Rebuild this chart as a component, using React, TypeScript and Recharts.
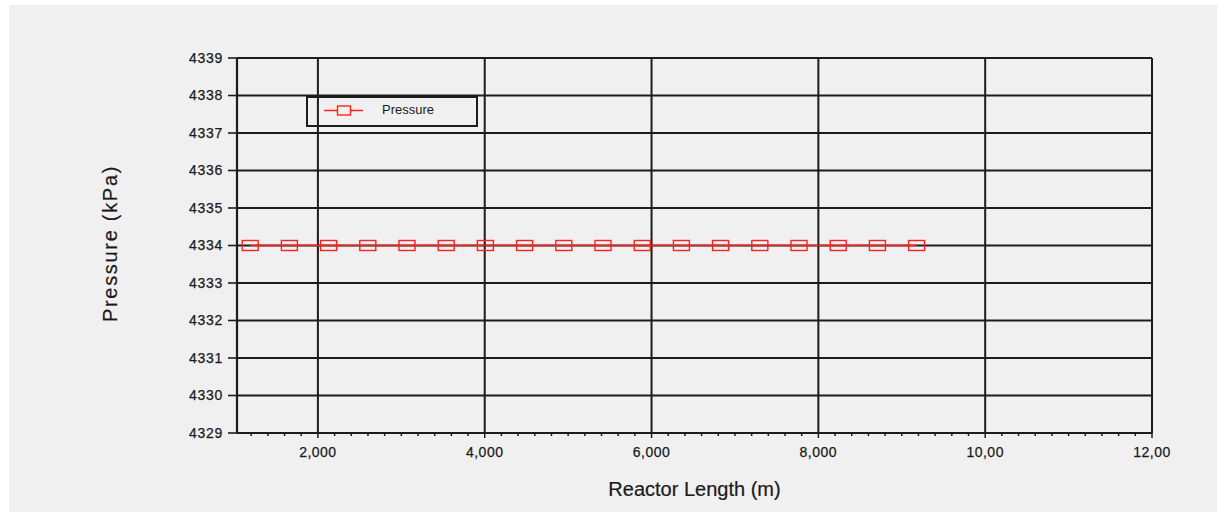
import React from "react";
import { LineChart, Line, XAxis, YAxis, CartesianGrid, ReferenceLine } from "recharts";

const lengths = [1188, 1658, 2128, 2598, 3068, 3538, 4008, 4478, 4948, 5418, 5888, 6358, 6828, 7298, 7768, 8238, 8708, 9178];
const pressures = [4334, 4334, 4334, 4334, 4334, 4334, 4334, 4334, 4334, 4334, 4334, 4334, 4334, 4334, 4334, 4334, 4334, 4334];
const yTicks = [4329, 4330, 4331, 4332, 4333, 4334, 4335, 4336, 4337, 4338, 4339];
const xMajorTicks = [2000, 4000, 6000, 8000, 10000, 12000];
const xMajorLabels = ["2,000", "4,000", "6,000", "8,000", "10,00", "12,00"];
const xMinorTicks = [1200, 1400, 1600, 1800, 2000, 2200, 2400, 2600, 2800, 3000, 3200, 3400, 3600, 3800, 4000, 4200, 4400, 4600, 4800, 5000, 5200, 5400, 5600, 5800, 6000, 6200, 6400, 6600, 6800, 7000, 7200, 7400, 7600, 7800, 8000, 8200, 8400, 8600, 8800, 9000, 9200, 9400, 9600, 9800, 10000, 10200, 10400, 10600, 10800, 11000, 11200, 11400, 11600, 11800, 12000];
const seriesName = "Pressure";
const xTitle = "Reactor Length (m)";
const yTitle = "Pressure (kPa)";

const data = lengths.map((x, i) => ({ x, y: pressures[i] }));

const FONT = "'Liberation Sans', Arial, sans-serif";
const INK = "#1a1a1a";
const GRID = "#1c1c1c";
const RED = "#ff2020";

const XTick = (props: any) => {
  const { x, y, payload } = props;
  const v = payload.value;
  const idx = xMajorTicks.indexOf(v);
  const major = idx >= 0;
  return (
    <g>
      <line x1={x} x2={x} y1={y} y2={y + (major ? 5 : 3)} stroke={GRID} strokeWidth={1.5} />
      {major && (
        <text x={x} y={y + 24} textAnchor="middle" fontSize={14} fontFamily={FONT} fill={INK} stroke={INK} strokeWidth={0.25} letterSpacing={0.5}>
          {xMajorLabels[idx]}
        </text>
      )}
    </g>
  );
};

const Marker = (p: any) => {
  if (p.cx == null || p.cy == null) return <g key={p.index} />;
  return (
    <rect key={p.index} x={p.cx - 8} y={p.cy - 5} width={16} height={10} fill="none" stroke={RED} strokeWidth={1.4} />
  );
};

const XTitle = (props: any) => {
  const vb = props.viewBox;
  return (
    <text x={vb.x + vb.width / 2} y={vb.y + vb.height - 16} textAnchor="middle" fontSize={20} fontFamily={FONT} fill={INK} stroke={INK} strokeWidth={0.2}>
      {xTitle}
    </text>
  );
};

const YTitle = (props: any) => {
  const vb = props.viewBox;
  const cx = vb.x + 108;
  const cy = vb.y + vb.height / 2 - 2;
  return (
    <text x={cx} y={cy} transform={`rotate(-90 ${cx} ${cy})`} textAnchor="middle" fontSize={20} fontFamily={FONT} fill={INK} stroke={INK} strokeWidth={0.2} letterSpacing={1.7}>
      {yTitle}
    </text>
  );
};

export default function App() {
  return (
    <div style={{ position: "absolute", left: 9, top: 5, width: 1208, height: 507, background: "#f0f0f0" }}>
      <LineChart width={1208} height={507} data={data} margin={{ top: 53, right: 65, bottom: 0, left: 0 }}>
        <CartesianGrid vertical={false} stroke={GRID} strokeWidth={2} />
        {xMajorTicks.map((v) => (
          <ReferenceLine key={v} x={v} stroke={GRID} strokeWidth={2} ifOverflow="visible" />
        ))}
        <XAxis
          dataKey="x"
          type="number"
          domain={[1030, 12000]}
          allowDataOverflow
          ticks={xMinorTicks}
          interval={0}
          tickLine={false}
          tickSize={0}
          tickMargin={0}
          tick={<XTick />}
          axisLine={{ stroke: GRID, strokeWidth: 2.2 }}
          height={79}
          label={<XTitle />}
        />
        <YAxis
          type="number"
          domain={[4329, 4339]}
          ticks={yTicks}
          interval={0}
          width={228}
          tickSize={9}
          tickMargin={5}
          tickLine={{ stroke: GRID, strokeWidth: 1.6 }}
          axisLine={{ stroke: GRID, strokeWidth: 2.2 }}
          tick={{ fontSize: 14, fontFamily: FONT, fill: INK, stroke: INK, strokeWidth: 0.25, letterSpacing: 0.7 }}
          label={<YTitle />}
        />
        <Line
          type="linear"
          dataKey="y"
          name={seriesName}
          stroke={RED}
          strokeWidth={1.5}
          dot={Marker}
          activeDot={false}
          isAnimationActive={false}
        />
      </LineChart>
      <div
        style={{
          position: "absolute",
          left: 297,
          top: 91,
          width: 172,
          height: 31,
          boxSizing: "border-box",
          border: `2px solid ${GRID}`,
          fontFamily: FONT,
        }}
      >
        <svg width={70} height={28} style={{ position: "absolute", left: 0, top: 0 }}>
          <line x1={16} x2={55} y1={12.5} y2={12.5} stroke={RED} strokeWidth={1.5} />
          <rect x={29.5} y={8} width={13} height={9} fill="#f0f0f0" stroke={RED} strokeWidth={1.4} />
        </svg>
        <div style={{ position: "absolute", left: 74, top: 4, fontSize: 13, color: INK, lineHeight: "16px" }}>{seriesName}</div>
      </div>
    </div>
  );
}
